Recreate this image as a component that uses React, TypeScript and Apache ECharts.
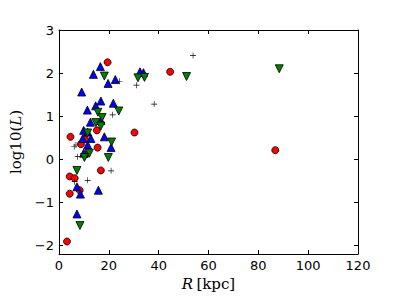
import React, { useEffect, useRef } from "react";
import * as echarts from "echarts";

// Red circles: [R (kpc), log10(L)]
const redCircles: number[][] = [
  [3.2, -1.91], [4.3, -0.8], [4.3, -0.4], [6.3, -0.44], [8.3, -0.72],
  [4.6, 0.52], [8.8, 0.35], [10.4, 0.47], [11.0, 0.12], [15.2, 0.67],
  [15.5, 0.27], [16.8, -0.26], [19.5, 2.25], [30.3, 0.62], [44.6, 2.03],
  [86.8, 0.21],
];

// Blue up-triangles
const blueTriangles: number[][] = [
  [16.6, 2.15], [13.8, 1.97], [19.7, 1.76], [22.6, 1.85], [9.1, 1.56],
  [16.8, 1.35], [14.7, 1.24], [11.4, 1.14], [21.8, 1.3], [12.6, 0.86],
  [16.8, 0.9], [9.9, 0.67], [11.5, 0.63], [18.2, 0.52], [9.5, 0.48],
  [12.8, 0.48], [11.5, 0.33], [20.9, 0.27], [9.9, 0.14], [7.2, -0.64],
  [8.6, -0.81], [15.8, -0.72], [7.2, -1.27], [32.5, 2.03], [33.9, 2.01],
];

// Green down-triangles
const greenTriangles: number[][] = [
  [18.2, 1.93], [15.6, 1.09], [24.0, 1.12], [14.8, 0.85], [16.8, 0.77],
  [17.3, 0.97], [11.5, 0.61], [21.1, 0.4], [12.2, 0.14], [10.2, 0.04],
  [19.8, 0.04], [7.2, -0.26], [8.4, -1.54], [31.7, 1.89], [34.3, 1.9],
  [51.2, 1.92], [88.4, 2.1],
];

// Black plus markers
const plusMarkers: number[][] = [
  [24.2, 1.81], [21.5, 1.03], [31.1, 1.72], [38.2, 1.28], [53.8, 2.41],
  [7.5, 0.06], [6.1, 0.29], [6.8, 0.33], [20.9, -0.27], [11.5, -0.49],
  [6.3, -0.52],
];

const yTicks = [-2, -1, 0, 1, 2, 3];

const PLUS = "path://M0,4.5h10v1h-10z M4.5,0h1v10h-1z";

export default function App() {
  const ref = useRef<HTMLDivElement>(null);
  useEffect(() => {
    if (!ref.current) return;
    const chart = echarts.init(ref.current, undefined, { renderer: "svg" });
    const tickFont = { fontFamily: "DejaVu Sans", fontSize: 13, color: "#000" };
    const axisLine = { show: true, onZero: false, lineStyle: { color: "#000", width: 1 } };
    const tick = { show: true, inside: true, length: 4, lineStyle: { color: "#000", width: 1 } };
    const fmt = (v: number) => (v < 0 ? "\u2212" + Math.abs(v) : String(v));
    const nameRich = {
      i: { fontFamily: "DejaVu Serif", fontStyle: "italic", fontSize: 15, color: "#000" },
      n: { fontFamily: "DejaVu Serif", fontSize: 15, color: "#000" },
    };
    chart.setOption({
      animation: false,
      backgroundColor: "#fff",
      grid: { left: 59, right: 41, top: 30, bottom: 45, show: false },
      xAxis: [
        {
          type: "value", min: 0, max: 120, interval: 20, position: "bottom",
          axisLine, axisTick: tick, splitLine: { show: false },
          axisLabel: { ...tickFont, margin: 5, formatter: fmt },
          name: "{i|R} {n|[kpc]}", nameLocation: "middle", nameGap: 17,
          nameTextStyle: { rich: nameRich },
        },
        {
          type: "value", min: 0, max: 120, interval: 20, position: "top",
          axisLine, axisTick: tick, axisLabel: { show: false }, splitLine: { show: false },
        },
      ],
      yAxis: [
        {
          type: "value", min: -2.2, max: 3, position: "left",
          axisLine, splitLine: { show: false },
          axisTick: { ...tick, customValues: yTicks },
          axisLabel: { ...tickFont, margin: 5, customValues: yTicks, formatter: fmt },
          name: "{n|log10(}{i|L}{n|)}", nameLocation: "middle", nameGap: 28, nameRotate: 90,
          nameTextStyle: { rich: nameRich },
        },
        {
          type: "value", min: -2.2, max: 3, position: "right",
          axisLine, splitLine: { show: false },
          axisTick: { ...tick, customValues: yTicks },
          axisLabel: { show: false },
        },
      ],
      series: [
        {
          type: "scatter", xAxisIndex: 0, yAxisIndex: 0, data: redCircles,
          symbol: "circle", symbolSize: 7,
          itemStyle: { color: "#ff0000", borderColor: "#000", borderWidth: 0.8, opacity: 1 },
        },
        {
          type: "scatter", xAxisIndex: 0, yAxisIndex: 0, data: blueTriangles,
          symbol: "triangle", symbolSize: 8,
          itemStyle: { color: "#0000ff", borderColor: "#000", borderWidth: 0.8, opacity: 1 },
        },
        {
          type: "scatter", xAxisIndex: 0, yAxisIndex: 0, data: greenTriangles,
          symbol: "triangle", symbolRotate: 180, symbolSize: 8,
          itemStyle: { color: "#008000", borderColor: "#000", borderWidth: 0.8, opacity: 1 },
        },
        {
          type: "scatter", xAxisIndex: 0, yAxisIndex: 0, data: plusMarkers,
          symbol: PLUS, symbolSize: 6,
          itemStyle: { color: "#000", opacity: 1 },
        },
      ],
    });
    return () => chart.dispose();
  }, []);
  return (
    <div
      ref={ref}
      style={{ position: "fixed", left: 0, top: 0, width: 399, height: 299 }}
    />
  );
}
